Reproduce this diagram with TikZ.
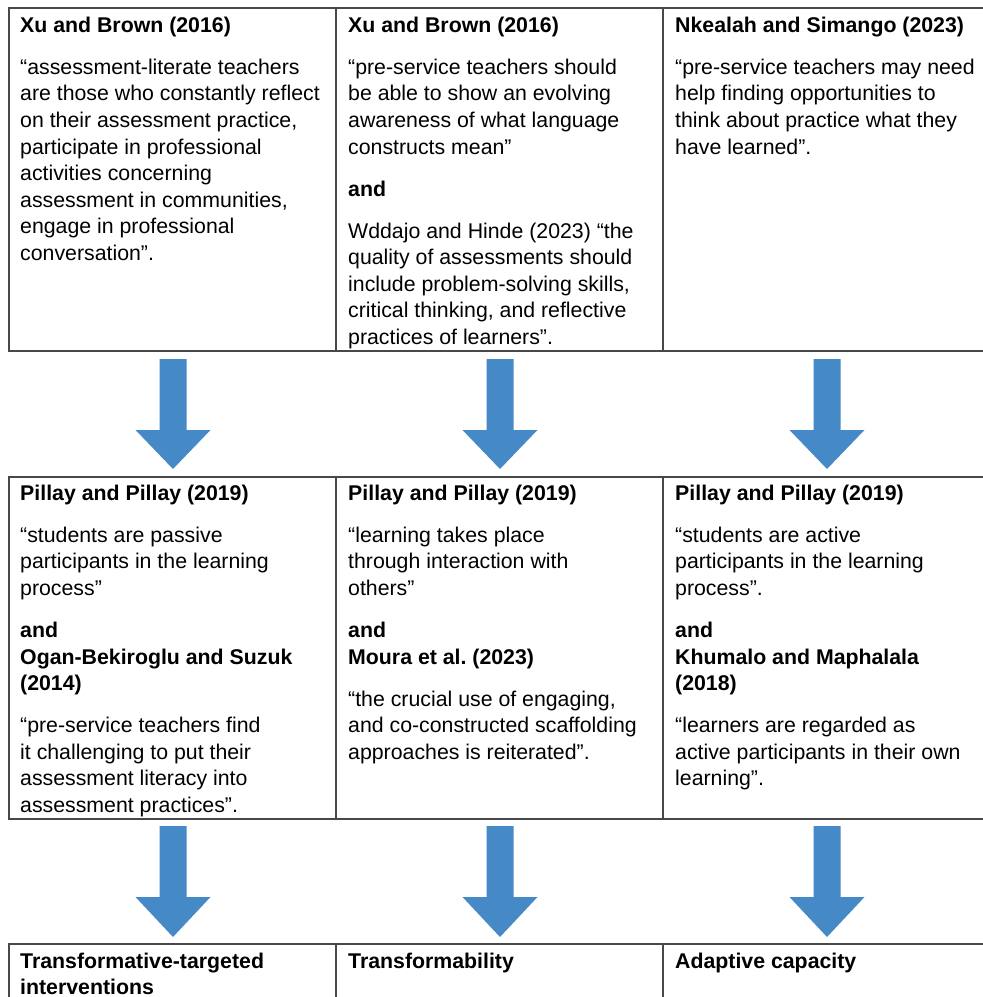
\documentclass[tikz,border=0pt]{standalone}
\usepackage{fontspec}
\setmainfont{Liberation Sans}
\frenchspacing
\definecolor{arrowblue}{RGB}{69,137,198}
\definecolor{rulecol}{RGB}{72,72,72}
\newcommand\blkarrow[4]{%
  \fill[arrowblue] (#1-13.5,#2) -- (#1+13.5,#2) -- (#1+13.5,#3) -- (#1+37.5,#3)
    -- (#1,#4) -- (#1-37.5,#3) -- (#1-13.5,#3) -- cycle;}
\begin{document}
\begin{tikzpicture}[x=1pt,y=-1pt,
  rulel/.style={draw=rulecol,line width=1.1pt},
  celltext/.style={anchor=north west,inner sep=0pt,align=left,
    font=\fontsize{21.3}{26.6}\selectfont}]
\useasboundingbox (0,0) rectangle (983,997);
% tables
\draw[rulel] (995,8) -- (9,8) -- (9,351) -- (995,351);
\draw[rulel] (336,8) -- (336,351) (663,8) -- (663,351);
\draw[rulel] (995,477) -- (9,477) -- (9,819) -- (995,819);
\draw[rulel] (336,477) -- (336,819) (663,477) -- (663,819);
\draw[rulel] (995,944) -- (9,944) -- (9,1005);
\draw[rulel] (336,944) -- (336,1005) (663,944) -- (663,1005);
% arrows
\blkarrow{173}{359}{430}{469}
\blkarrow{500}{359}{430}{469}
\blkarrow{827}{359}{430}{469}
\blkarrow{173}{826}{897}{937}
\blkarrow{500}{826}{897}{937}
\blkarrow{827}{826}{897}{937}
% row 1
\node[celltext] (t11) at (20,13.4) {\strut\textbf{Xu and Brown (2016)}\\[15.4pt]
“assessment-literate teachers\\ are those who constantly reflect\\ on their assessment practice,\\ participate in professional\\ activities concerning\\ assessment in communities,\\ engage in professional\\ conversation”.};
\node[celltext] (t12) at (348,13.4) {\strut\textbf{Xu and Brown (2016)}\\[15.4pt]
“pre-service teachers should\\ be able to show an evolving\\ awareness of what language\\ constructs mean”\\[15.4pt]
\textbf{and}\\[15.4pt]
Wddajo and Hinde (2023) “the\\ quality of assessments should\\ include problem-solving skills,\\ critical thinking, and reflective\\ practices of learners”.};
\node[celltext] (t13) at (675,13.4) {\strut\textbf{Nkealah and Simango (2023)}\\[15.4pt]
“pre-service teachers may need\\ help finding opportunities to\\ think about practice what they\\ have learned”.};
% row 2
\node[celltext] (t21) at (20,481.4) {\strut\textbf{Pillay and Pillay (2019)}\\[15.4pt]
“students are passive\\ participants in the learning\\ process”\\[15.4pt]
\textbf{and}\\ \textbf{Ogan-Bekiroglu and Suzuk}\\ \textbf{(2014)}\\[15.4pt]
“pre-service teachers find\\ it challenging to put their\\ assessment literacy into\\ assessment practices”.};
\node[celltext] (t22) at (348,481.4) {\strut\textbf{Pillay and Pillay (2019)}\\[15.4pt]
“learning takes place\\ through interaction with\\ others”\\[15.4pt]
\textbf{and}\\ \textbf{Moura et al. (2023)}\\[15.4pt]
“the crucial use of engaging,\\ and co-constructed scaffolding\\ approaches is reiterated”.};
\node[celltext] (t23) at (675,481.4) {\strut\textbf{Pillay and Pillay (2019)}\\[15.4pt]
“students are active\\ participants in the learning\\ process”.\\[15.4pt]
\textbf{and}\\ \textbf{Khumalo and Maphalala}\\ \textbf{(2018)}\\[15.4pt]
“learners are regarded as\\ active participants in their own\\ learning”.};
% row 3
\node[celltext] (t31) at (20,949.4) {\strut\textbf{Transformative-targeted}\\ \textbf{interventions}};
\node[celltext] (t32) at (348,949.4) {\strut\textbf{Transformability}};
\node[celltext] (t33) at (675,949.4) {\strut\textbf{Adaptive capacity}};
\end{tikzpicture}
\end{document}
